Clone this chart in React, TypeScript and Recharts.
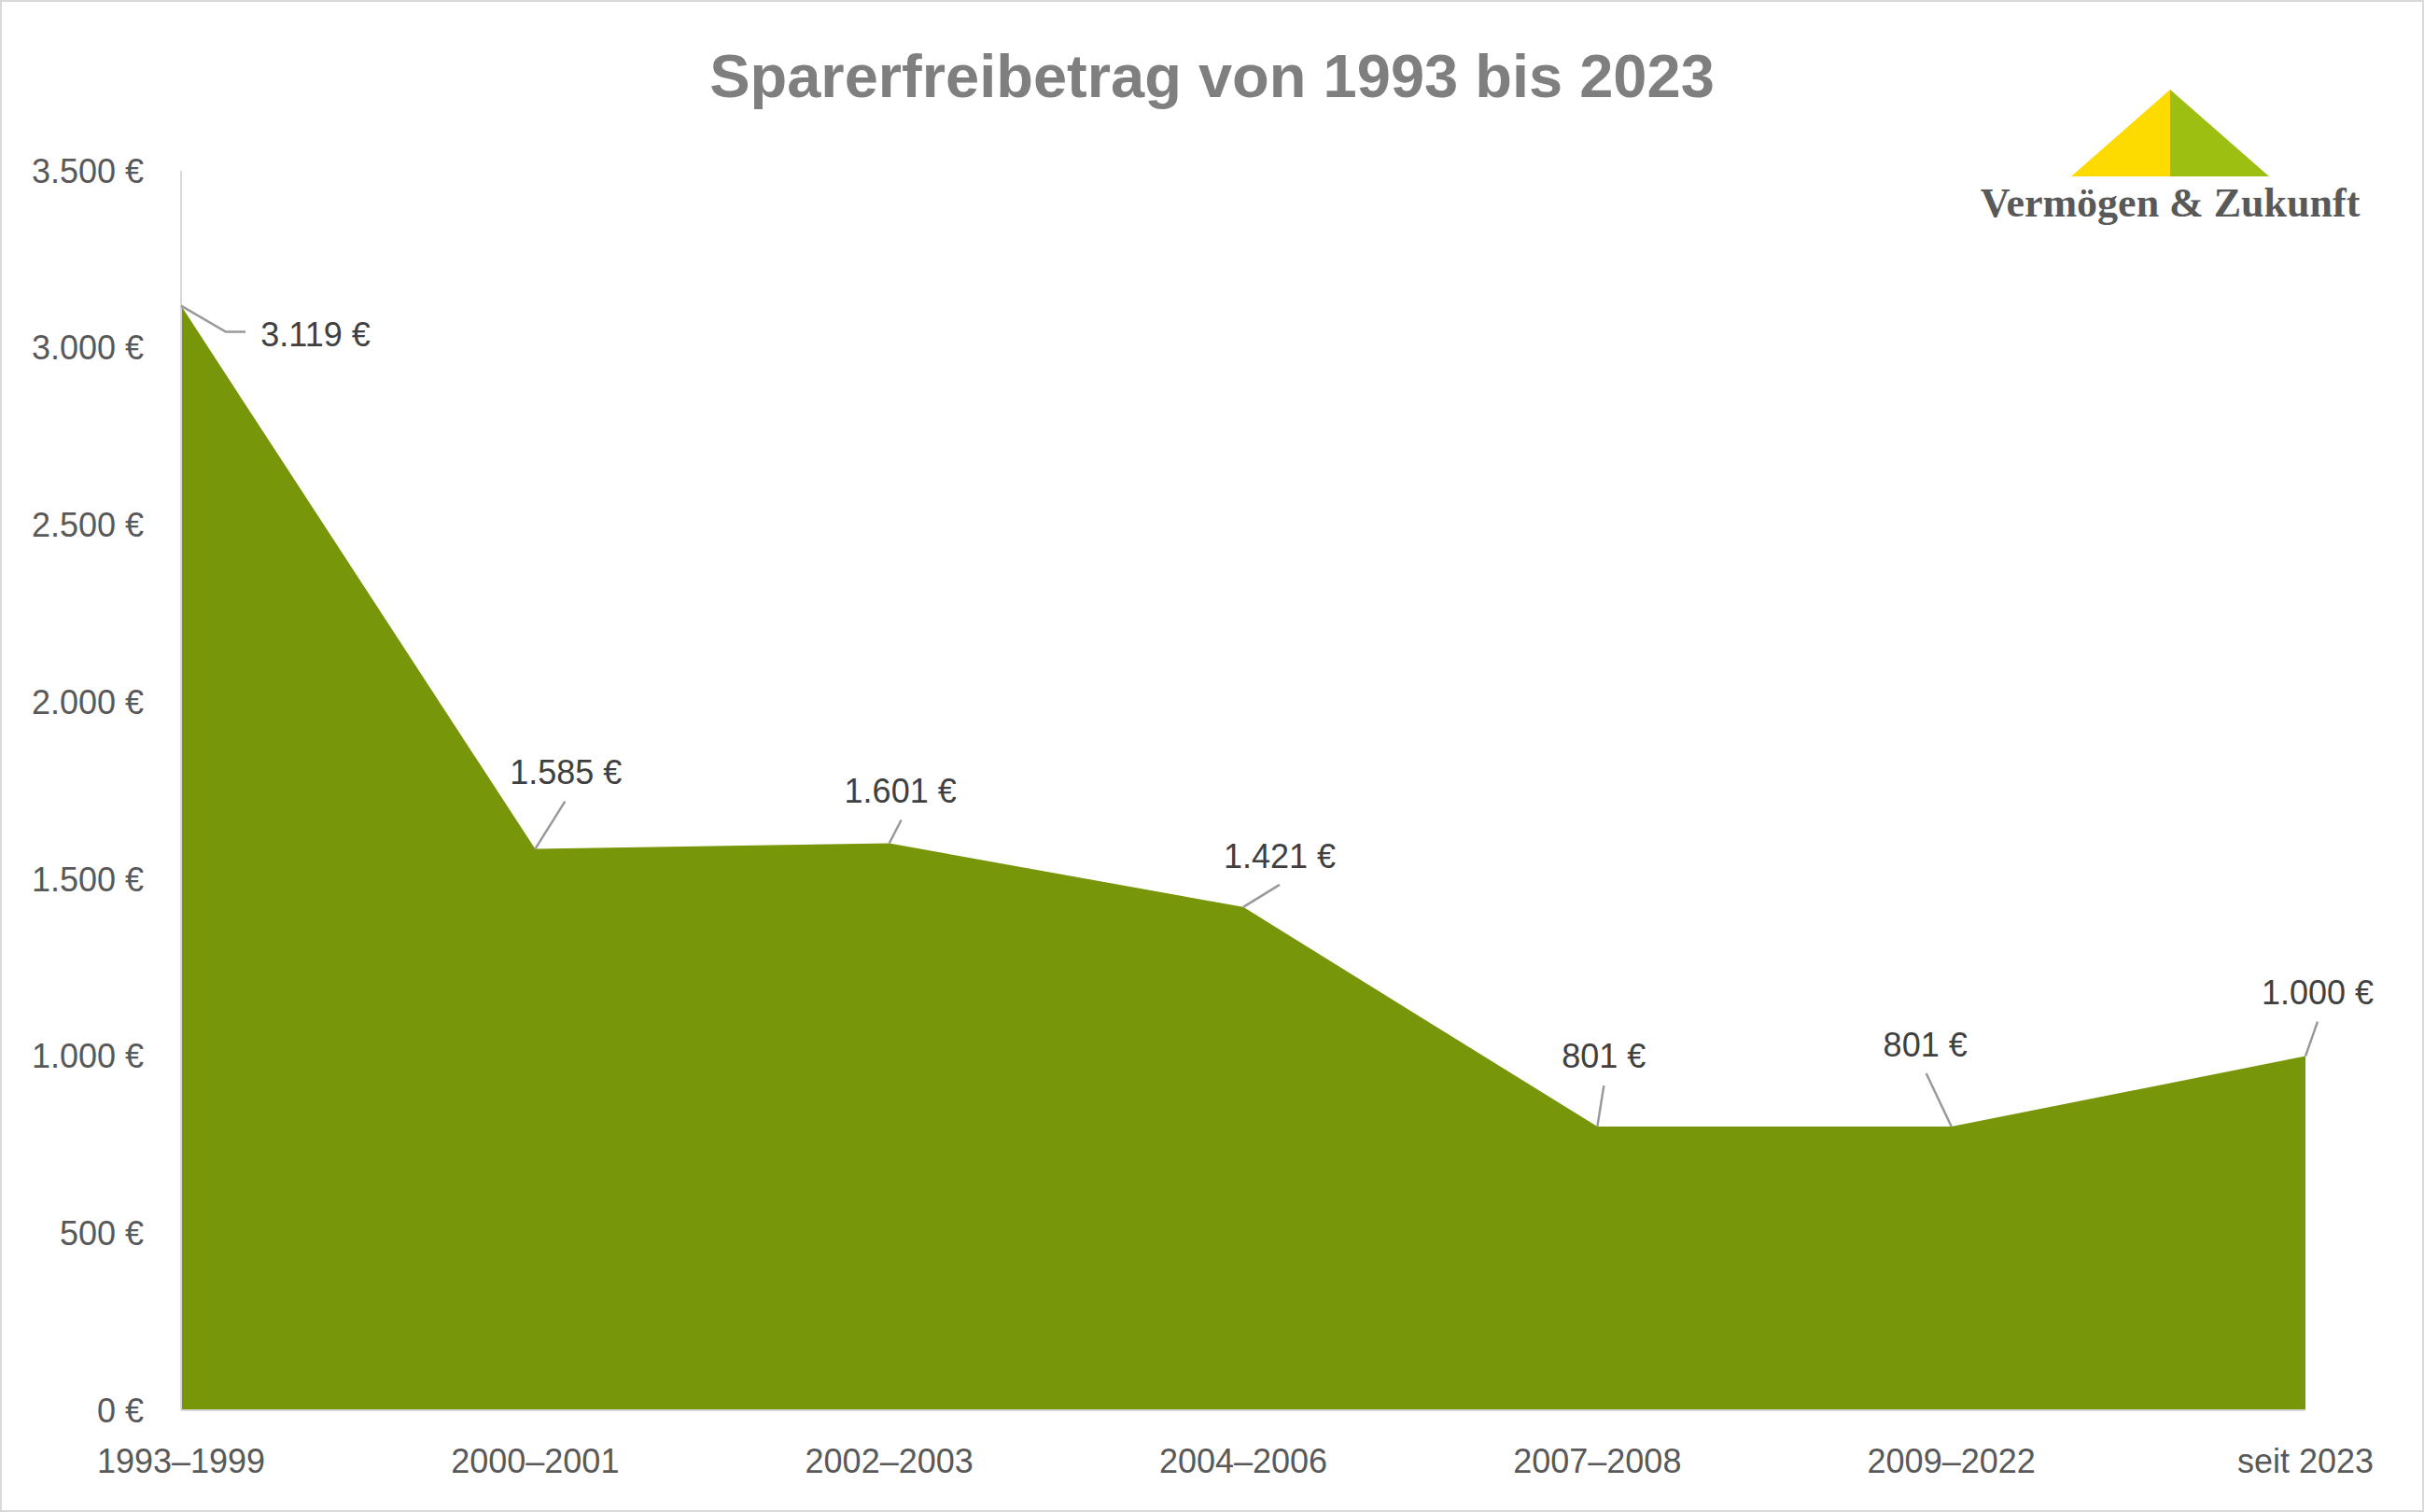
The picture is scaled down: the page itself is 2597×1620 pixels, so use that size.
import { AreaChart, Area, XAxis, YAxis } from 'recharts';

const periods = ['1993–1999', '2000–2001', '2002–2003', '2004–2006', '2007–2008', '2009–2022', 'seit 2023'];
const allowance = [3119, 1585, 1601, 1421, 801, 801, 1000];
const yTicks = [0, 500, 1000, 1500, 2000, 2500, 3000, 3500];

// label placement relative to the data point: [labelDx, labelDy, leaderDx, leaderDy]
const labelLayout = [
  [144, 30, 48, 28],
  [33, -83, 32, -51],
  [12, -56, 13, -25],
  [39, -55, 39, -24],
  [7, -76, 7, -44],
  [-28, -88, -27, -57],
  [13, -69, 13, -37],
];

const data = periods.map((period, i) => ({ period, value: allowance[i] }));

const euro = (v: number) => `${String(v).replace(/\B(?=(\d{3})+(?!\d))/g, '.')} €`;

const FONT = '"Liberation Sans", Arial, sans-serif';

function PointLabel(props: any) {
  const { x, y, index, value } = props;
  if (x == null || y == null) return null;
  const [lx, ly, ex, ey] = labelLayout[index];
  return (
    <g>
      {index === 0 ? (
        <polyline
          points={`${x},${y} ${x + ex},${y + ey} ${x + ex + 21},${y + ey}`}
          fill="none"
          stroke="#999999"
          strokeWidth={2.5}
        />
      ) : (
        <line x1={x} y1={y} x2={x + ex} y2={y + ey} stroke="#999999" strokeWidth={2.5} />
      )}
      <text
        x={x + lx}
        y={y + ly}
        dy="0.36em"
        textAnchor="middle"
        fontFamily={FONT}
        fontSize={36}
        fill="#404040"
      >
        {euro(value)}
      </text>
    </g>
  );
}

export default function App() {
  return (
    <div
      style={{
        position: 'absolute',
        left: 0,
        top: 0,
        width: 2597,
        height: 1620,
        boxSizing: 'border-box',
        border: '2px solid #d9d9d9',
        background: '#fff',
        overflow: 'hidden',
      }}
    >
      <div
        style={{
          position: 'absolute',
          left: 0,
          width: '100%',
          top: 42,
          textAlign: 'center',
          fontFamily: FONT,
          fontWeight: 'bold',
          fontSize: 65,
          color: '#7f7f7f',
          lineHeight: '76px',
        }}
      >
        Sparerfreibetrag von 1993 bis 2023
      </div>

      {/* logo */}
      <svg width={2597} height={260} style={{ position: 'absolute', left: -2, top: -2 }}>
        <polygon points="2219,189 2325,96 2325,189" fill="#fdda00" />
        <polygon points="2325,96 2431,189 2325,189" fill="#9cbf12" />
        <text
          x={2325}
          y={217}
          dy="0.35em"
          textAnchor="middle"
          fontFamily='"Liberation Serif", "Times New Roman", serif'
          fontWeight="bold"
          fontSize={44}
          fill="#595959"
        >
          Vermögen &amp; Zukunft
        </text>
      </svg>

      <div style={{ position: 'absolute', left: -2, top: -1 }}>
        <AreaChart
          width={2597}
          height={1620}
          data={data}
          margin={{ top: 182, right: 127, bottom: 50, left: 0 }}
        >
          <XAxis
            dataKey="period"
            height={60}
            tickLine={false}
            tickSize={0}
            tickMargin={41}
            axisLine={{ stroke: '#d9d9d9', strokeWidth: 2 }}
            tick={{ fontFamily: FONT, fontSize: 36, fill: '#595959' }}
            interval={0}
          />
          <YAxis
            width={194}
            domain={[0, 3500]}
            ticks={yTicks}
            tickFormatter={euro}
            tickLine={false}
            tickSize={0}
            tickMargin={40}
            axisLine={{ stroke: '#d9d9d9', strokeWidth: 2 }}
            tick={{ fontFamily: FONT, fontSize: 36, fill: '#595959' }}
            interval={0}
          />
          <Area
            type="linear"
            dataKey="value"
            stroke="none"
            fill="#789609"
            fillOpacity={1}
            isAnimationActive={false}
            label={PointLabel}
          />
        </AreaChart>
      </div>
    </div>
  );
}
